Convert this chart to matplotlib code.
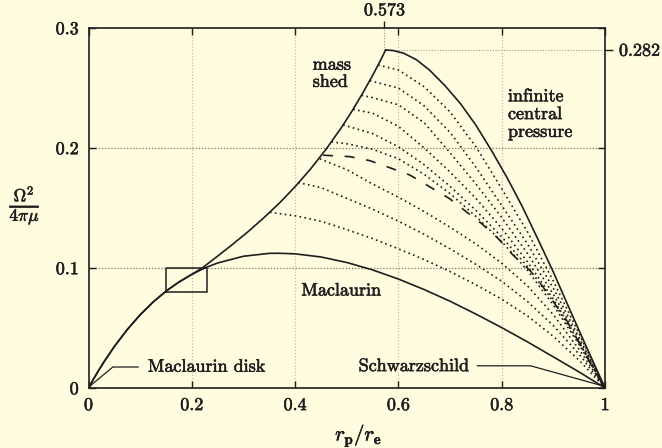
import matplotlib
matplotlib.use("Agg")
import matplotlib.pyplot as plt
import matplotlib.patheffects as pe
import numpy as np

plt.rcParams['font.family'] = ['cmr10', 'DejaVu Serif']
plt.rcParams['mathtext.fontset'] = 'cm'
plt.rcParams['axes.formatter.use_mathtext'] = True

bg = '#fffcdf'
ink = '#1e1e1e'
thick = [pe.withStroke(linewidth=0.4, foreground=ink)]

# Maclaurin spheroids, Omega^2/(4 pi mu) against rp/re
mac_x = [0, 0.01, 0.02, 0.03, 0.05, 0.075, 0.1, 0.125, 0.15, 0.175, 0.2, 0.225, 0.25,
         0.3, 0.35, 0.368, 0.4, 0.45, 0.5, 0.55, 0.6, 0.65, 0.7, 0.75, 0.8, 0.85,
         0.9, 0.95, 1.0]
mac_y = [0, 0.0077, 0.0149, 0.0218, 0.0346, 0.0487, 0.0610, 0.0716, 0.0807, 0.0883,
         0.0947, 0.1000, 0.1042, 0.1098, 0.1122, 0.1123, 0.1118, 0.1092, 0.1046,
         0.0984, 0.0908, 0.0820, 0.0723, 0.0616, 0.0503, 0.0384, 0.0259, 0.0133, 0.0]

# mass-shedding limit
shed_x = [0, 0.01, 0.02, 0.03, 0.05, 0.075, 0.1, 0.125, 0.15, 0.175, 0.2, 0.22, 0.25,
          0.28, 0.31, 0.34, 0.37, 0.40, 0.43, 0.46, 0.49, 0.51, 0.53, 0.55, 0.565, 0.5754]
shed_y = [0, 0.0077, 0.0149, 0.0218, 0.0346, 0.0487, 0.0610, 0.0716, 0.0807, 0.0883,
          0.0947, 0.1000, 0.1099, 0.1201, 0.1307, 0.1421, 0.1543, 0.1678, 0.1826,
          0.1990, 0.2173, 0.2307, 0.2451, 0.2605, 0.2728, 0.2817]

# infinite central pressure limit
icp_x = [0.5754, 0.59, 0.61, 0.635, 0.66, 0.69, 0.72, 0.75, 0.78, 0.81, 0.84, 0.87,
         0.90, 0.93, 0.96, 1.0]
icp_y = [0.2817, 0.2812, 0.279, 0.2735, 0.265, 0.252, 0.237, 0.219, 0.198, 0.1755,
         0.151, 0.124, 0.0965, 0.067, 0.038, 0.0]

# dashed sequence
dash_x = [0.454, 0.506, 0.545, 0.583, 0.622, 0.660, 0.699, 0.728, 0.7605, 0.7927,
          0.8217, 0.854, 0.8797, 0.902, 0.925, 0.9507, 0.975, 1.0]
dash_y = [0.194, 0.1928, 0.1894, 0.1836, 0.1775, 0.1678, 0.1578, 0.148, 0.1372, 0.1247,
          0.1108, 0.0983, 0.0844, 0.0706, 0.0567, 0.0372, 0.018, 0.0]

# dotted sequences, top to bottom (each starts on the mass-shed curve)
dot_curves = [
    ([0.5606, 0.60, 0.65, 0.70, 0.75, 0.80, 0.85, 0.90, 0.95, 1.0],
     [0.2691, 0.265, 0.251, 0.230, 0.201, 0.166, 0.130, 0.089, 0.045, 0.0]),
    ([0.5445, 0.60, 0.65, 0.70, 0.75, 0.80, 0.85, 0.90, 0.95, 1.0],
     [0.2561, 0.250, 0.235, 0.213, 0.184, 0.152, 0.120, 0.083, 0.042, 0.0]),
    ([0.5284, 0.55, 0.60, 0.65, 0.70, 0.75, 0.80, 0.85, 0.90, 0.95, 1.0],
     [0.2439, 0.242, 0.236, 0.221, 0.196, 0.170, 0.142, 0.112, 0.078, 0.040, 0.0]),
    ([0.5122, 0.55, 0.60, 0.65, 0.70, 0.75, 0.80, 0.85, 0.90, 0.95, 1.0],
     [0.2322, 0.229, 0.218, 0.200, 0.180, 0.158, 0.133, 0.105, 0.074, 0.038, 0.0]),
    ([0.4929, 0.55, 0.60, 0.65, 0.70, 0.75, 0.80, 0.85, 0.90, 0.95, 1.0],
     [0.2192, 0.212, 0.201, 0.186, 0.168, 0.148, 0.126, 0.101, 0.072, 0.037, 0.0]),
    ([0.4703, 0.50, 0.55, 0.60, 0.65, 0.70, 0.75, 0.80, 0.85, 0.90, 0.95, 1.0],
     [0.2051, 0.2035, 0.199, 0.191, 0.178, 0.162, 0.143, 0.122, 0.098, 0.069, 0.036, 0.0]),
    ([0.4478, 0.50, 0.55, 0.60, 0.65, 0.70, 0.75, 0.80, 0.85, 0.90, 0.95, 1.0],
     [0.1910, 0.182, 0.170, 0.159, 0.147, 0.134, 0.120, 0.104, 0.085, 0.061, 0.032, 0.0]),
    ([0.4058, 0.45, 0.50, 0.55, 0.60, 0.65, 0.70, 0.75, 0.80, 0.85, 0.90, 0.95, 1.0],
     [0.1712, 0.167, 0.158, 0.149, 0.139, 0.128, 0.116, 0.103, 0.089, 0.072, 0.052, 0.028, 0.0]),
    ([0.351, 0.40, 0.45, 0.50, 0.55, 0.60, 0.65, 0.70, 0.75, 0.80, 0.85, 0.90, 0.95, 1.0],
     [0.1464, 0.1435, 0.139, 0.132, 0.1245, 0.116, 0.107, 0.097, 0.086, 0.074, 0.060,
      0.043, 0.023, 0.0]),
]

xticks = [0, 0.2, 0.4, 0.6, 0.8, 1.0]
xtick_labels = ['0', '0.2', '0.4', '0.6', '0.8', '1']
yticks = [0, 0.1, 0.2, 0.3]
ytick_labels = ['0', '0.1', '0.2', '0.3']
x_peak = 0.573
y_peak = 0.282

fig = plt.figure(figsize=(6.62, 4.48), dpi=100, facecolor=bg)
ax = fig.add_axes([0.1337, 0.1339, 0.7803, 0.8036])
ax.set_facecolor(bg)
ax.set_xlim(0, 1)
ax.set_ylim(0, 0.3)

# grid
for gx in [0.2, 0.4, 0.6, 0.8]:
    ax.axvline(gx, color='#d4b4a8', lw=0.9, ls=(0, (1, 1.5)), zorder=1)
for gy in [0.1, 0.2]:
    ax.axhline(gy, color='#7c7466', lw=0.9, ls=(0, (1, 1.5)), zorder=1)
ax.plot([x_peak, 1], [y_peak, y_peak], color='#a09888', lw=0.8, ls=(0, (1, 1.5)), zorder=1)
ax.plot([x_peak, x_peak], [y_peak, 0.3], color='#a09888', lw=0.8, ls=(0, (1, 1.5)), zorder=1)

ax.plot(mac_x, mac_y, color=ink, lw=1.2, zorder=3)
ax.plot(shed_x, shed_y, color=ink, lw=1.2, zorder=3)
ax.plot(icp_x, icp_y, color=ink, lw=1.2, zorder=3)
ax.plot(dash_x, dash_y, color=ink, lw=1.2, ls=(0, (6, 7)), zorder=3)
for cx, cy in dot_curves:
    ax.plot(cx, cy, color=ink, lw=1.2, ls=(0, (1, 2)), zorder=2)

# small box near the crossing
ax.plot([0.15, 0.23, 0.23, 0.15, 0.15], [0.08, 0.08, 0.1, 0.1, 0.08], color=ink, lw=1.1, zorder=3)

# labels with leaders
ax.plot([0.096, 0.047, 0.003], [0.0175, 0.0175, 0.0017], color=ink, lw=0.9)
ax.text(0.115, 0.0175, 'Maclaurin disk', fontsize=13, va='center', ha='left',
        color=ink, path_effects=thick)
ax.plot([0.753, 0.856, 0.996], [0.0185, 0.0185, 0.0017], color=ink, lw=0.9)
ax.text(0.523, 0.0180, 'Schwarzschild', fontsize=13, va='center', ha='left',
        color=ink, path_effects=thick)
ax.text(0.412, 0.081, 'Maclaurin', fontsize=13, va='center', ha='left', color=ink,
        path_effects=thick)
ax.text(0.434, 0.262, 'mass\nshed', fontsize=13, va='center', ha='left', color=ink,
        linespacing=1.15, path_effects=thick)
ax.text(0.812, 0.228, 'infinite\ncentral\npressure', fontsize=13, va='center', ha='left',
        color=ink, linespacing=1.2, path_effects=thick)

ax.set_xticks(xticks)
ax.set_xticklabels(xtick_labels)
ax.set_yticks(yticks)
ax.set_yticklabels(ytick_labels)
ax.tick_params(direction='in', top=True, right=True, length=5, width=1.0,
               labelsize=13, colors=ink, pad=7)
for lab in ax.get_xticklabels() + ax.get_yticklabels():
    lab.set_path_effects(thick)
for s in ax.spines.values():
    s.set_color(ink)
    s.set_linewidth(1.2)

secx = ax.secondary_xaxis('top')
secx.set_xticks([x_peak])
secx.set_xticklabels(['0.573'])
secx.tick_params(direction='out', length=5, width=1.0, labelsize=13, colors=ink, pad=2)
secx.spines['top'].set_visible(False)
secy = ax.secondary_yaxis('right')
secy.set_yticks([y_peak])
secy.set_yticklabels(['0.282'])
secy.tick_params(direction='out', length=6, width=1.0, labelsize=13, colors=ink, pad=4)
secy.spines['right'].set_visible(False)
for lab in secx.get_xticklabels() + secy.get_yticklabels():
    lab.set_path_effects(thick)

ax.set_xlabel(r'$r_\mathbf{p}/r_\mathbf{e}$', fontsize=15, color=ink, path_effects=thick)
ax.xaxis.set_label_coords(0.523, -0.095)
ax.text(-0.123, 0.152, r'$\frac{\Omega^2}{4\pi\mu}$', fontsize=18, ha='center',
        va='center', color=ink, path_effects=thick)

fig.savefig('out.png', dpi=100, facecolor=bg)
